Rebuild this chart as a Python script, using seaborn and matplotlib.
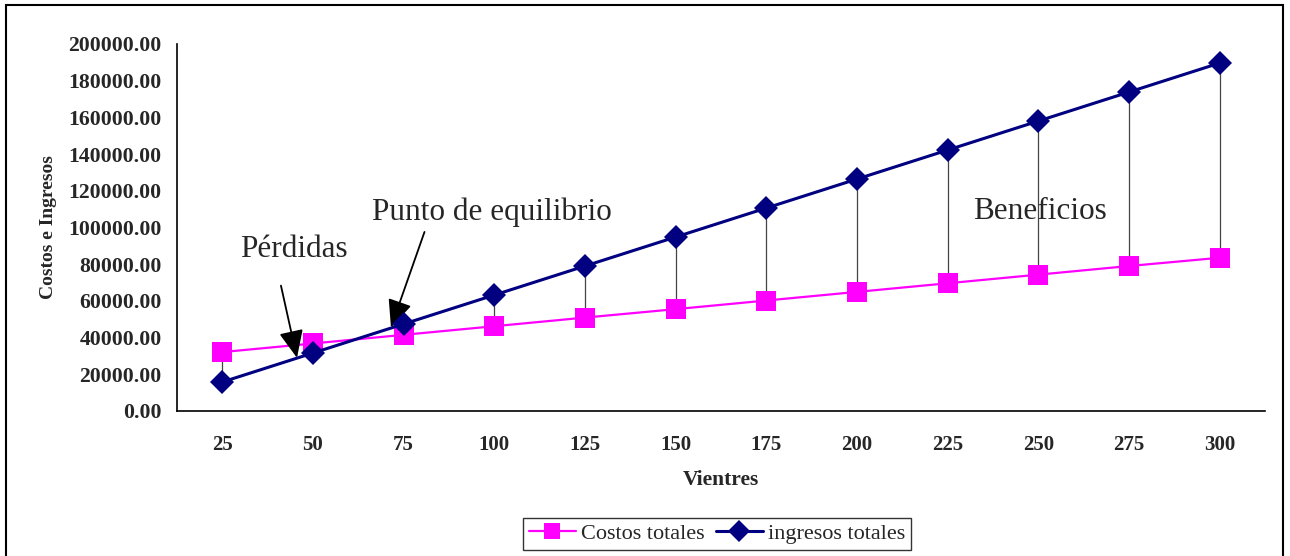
import pandas as pd
import matplotlib
matplotlib.use("Agg")
import matplotlib.pyplot as plt
import matplotlib.patches as patches
import seaborn as sns

# Data
vientres = ["25", "50", "75", "100", "125", "150", "175", "200", "225", "250", "275", "300"]
costos_totales = [32100, 36800, 41500, 46200, 50900, 55500, 60200, 64900, 69600, 74300, 79000, 83500]
ingresos_totales = [15800, 31600, 47400, 63200, 79000, 94800, 110600, 126400, 142200, 158000, 173800, 189600]
y_ticks = [0, 20000, 40000, 60000, 80000, 100000, 120000, 140000, 160000, 180000, 200000]

pos = list(range(len(vientres)))
df = pd.DataFrame({
    "pos": pos + pos,
    "valor": costos_totales + ingresos_totales,
    "serie": ["Costos totales"] * len(pos) + ["ingresos totales"] * len(pos),
})

sns.set_style("white")
plt.rcParams["font.family"] = ["Liberation Serif", "DejaVu Serif"]

fig = plt.figure(figsize=(12.9, 5.56), dpi=100)
ax = fig.add_axes([0.1372, 0.2608, 0.8434, 0.6601])

# high-low lines between the two series
ax.vlines(pos, costos_totales, ingresos_totales, color="#444444", linewidth=0.9, zorder=1)

palette = {"Costos totales": "#FF00FF", "ingresos totales": "#000080"}
markers = {"Costos totales": "s", "ingresos totales": "D"}
sns.lineplot(data=df[df.serie == "Costos totales"], x="pos", y="valor", hue="serie",
             style="serie", markers=markers, dashes=False, palette=palette,
             linewidth=1.6, markersize=14, markeredgewidth=0, ax=ax, zorder=3)
sns.lineplot(data=df[df.serie == "ingresos totales"], x="pos", y="valor", hue="serie",
             style="serie", markers=markers, dashes=False, palette=palette,
             linewidth=2.2, markersize=12, markeredgewidth=0, ax=ax, zorder=4)

ax.set_xlim(-0.5, len(vientres) - 0.5)
ax.set_ylim(0, 200000)
ax.set_yticks(y_ticks)
ax.set_yticklabels([f"{v:.2f}" for v in y_ticks], fontsize=15.7, fontweight="bold")
ax.set_xticks(pos)
ax.set_xticklabels(vientres, fontsize=15, fontweight="bold")
ax.set_xticks([p - 0.5 for p in pos] + [len(pos) - 0.5], minor=True)
ax.tick_params(axis="x", which="major", length=0, pad=17)
ax.tick_params(axis="x", which="minor", length=7, width=1, direction="out", color="black")
ax.tick_params(axis="y", which="major", length=7, width=1, direction="out", color="black", pad=4)

for s in ["top", "right"]:
    ax.spines[s].set_visible(False)
for s in ["left", "bottom"]:
    ax.spines[s].set_color("black")
    ax.spines[s].set_linewidth(1.2)

ax.set_xlabel("Vientres", fontsize=15.5, fontweight="bold", labelpad=11)
ax.set_ylabel("Costos e Ingresos", fontsize=14, fontweight="bold", labelpad=8)

# annotations
ax.text(0.2, 88000, "Pérdidas", fontsize=22.5, va="center", ha="left")
ax.text(1.65, 108500, "Punto de equilibrio", fontsize=22.5, va="center", ha="left")
ax.text(8.28, 108500, "Beneficios", fontsize=22.5, va="center", ha="left")
arrow = dict(arrowstyle="-|>,head_length=1.7,head_width=0.75", color="black", lw=1.3)
ax.annotate("", xy=(0.83, 27500), xytext=(0.64, 69800), arrowprops=arrow)
ax.annotate("", xy=(1.85, 44100), xytext=(2.24, 99000), arrowprops=arrow)

# legend at the bottom
handles, labels = ax.get_legend_handles_labels()
for h in handles:
    h.set_markersize(11)
ax.legend(handles, labels, loc="center", bbox_to_anchor=(0.556, 0.04),
          bbox_transform=fig.transFigure, ncol=2, frameon=True, fancybox=False,
          edgecolor="black", fontsize=16, handlelength=2.1, columnspacing=0.5,
          handletextpad=0.25, borderpad=0.25, borderaxespad=0)
leg = ax.get_legend()
leg.get_frame().set_linewidth(1.0)

# outer chart frame (bottom edge is cut off in the reference)
fig.patches.append(patches.Rectangle((0.005, -0.05), 0.9895, 1.041, transform=fig.transFigure,
                                     fill=False, edgecolor="black", linewidth=1.5))

fig.savefig("out.png", dpi=100)
